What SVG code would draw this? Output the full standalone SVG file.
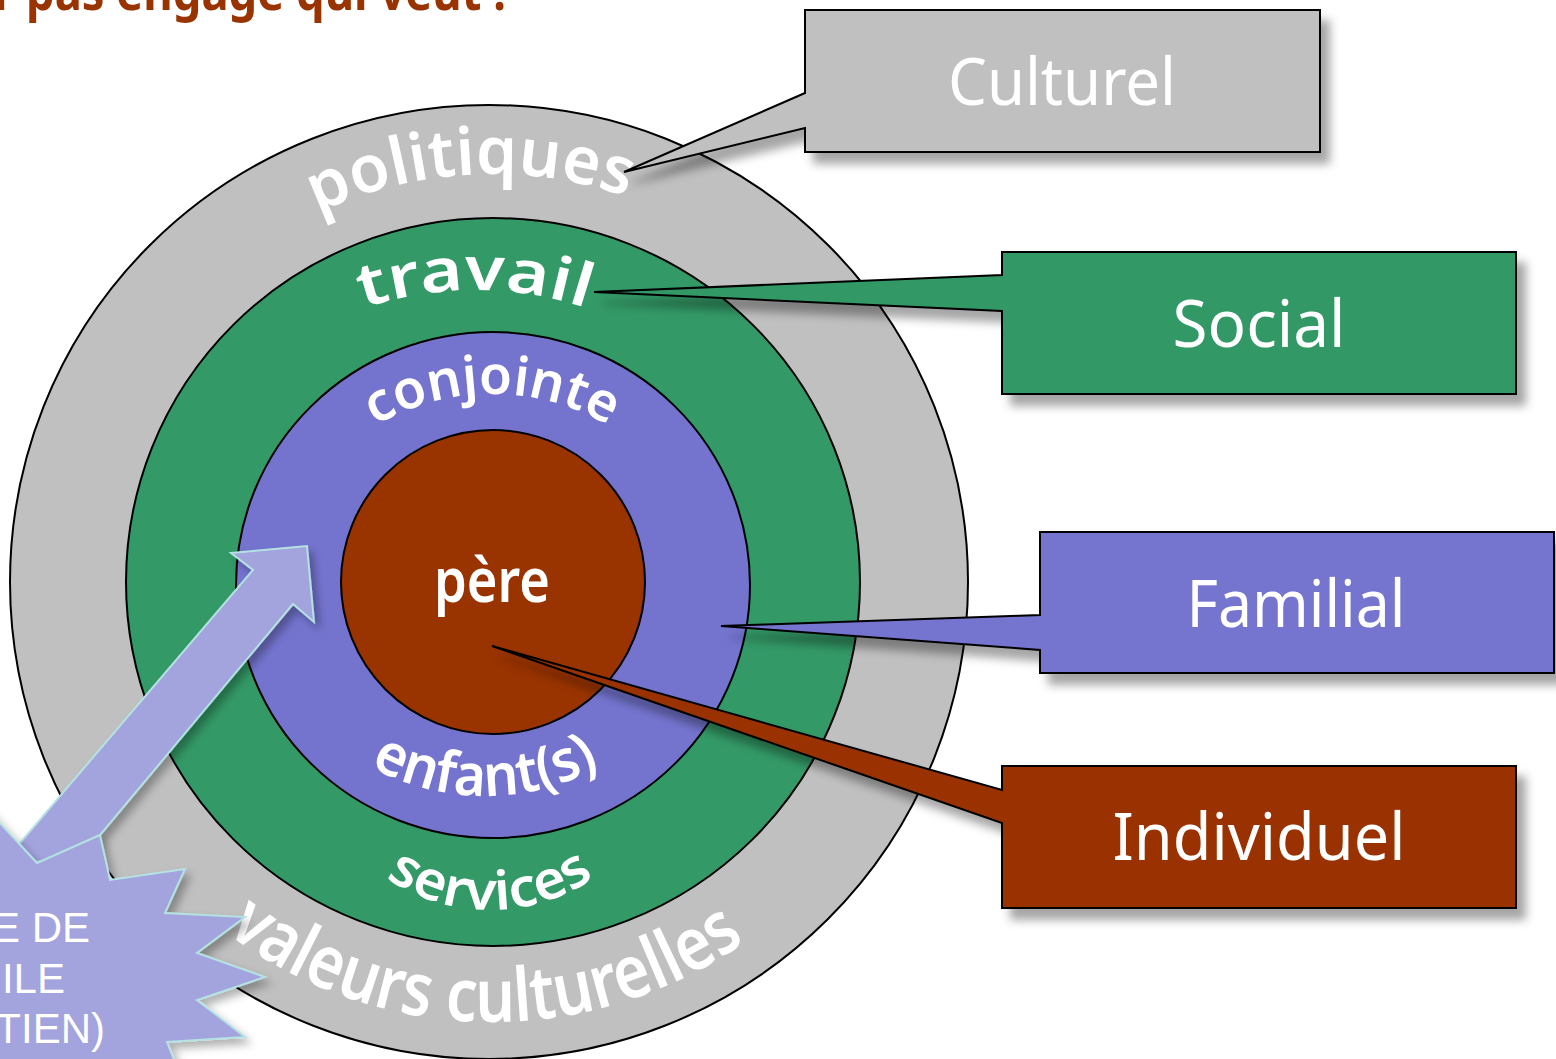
<svg xmlns="http://www.w3.org/2000/svg" xmlns:xlink="http://www.w3.org/1999/xlink" width="1556" height="1059" viewBox="0 0 1556 1059">
<style>
.ring{stroke:#000;stroke-width:2}
.rt{font-family:"Comic Sans MS","Noto Sans",sans-serif;fill:#fff;font-weight:600}
.bt{font-family:"Comic Sans MS","Noto Sans",sans-serif;fill:#fff;font-size:66px;text-anchor:middle}
.co{stroke:#000;stroke-width:2;filter:url(#sh)}
.burst{fill:#a3a3de;stroke:#b4e2e2;stroke-width:2}
.st{font-family:"Liberation Sans",Arial,sans-serif;fill:#fff;font-size:42px;text-anchor:end}
</style>
<defs>
<filter id="sh" x="-20%" y="-20%" width="150%" height="160%">
<feDropShadow dx="9" dy="11" stdDeviation="5" flood-color="#000" flood-opacity="0.35"/>
</filter>
<filter id="sh2" x="-20%" y="-20%" width="150%" height="150%">
<feDropShadow dx="5" dy="6" stdDeviation="4" flood-color="#000" flood-opacity="0.3"/>
</filter>
<path id="p-pol" d="M128.5,396.8 A408,408 0 0 1 834.2,359.8"/>
<path id="p-tra" d="M171.9,465 A350,350 0 0 1 778.1,465"/>
<path id="p-con" d="M292.8,509 A230,230 0 0 1 691.2,509"/>
<path id="p-enf" d="M277.2,676 A240,240 0 0 0 692.8,676"/>
<path id="p-ser" d="M329.8,817.5 A185,185 0 0 0 650.2,817.5"/>
<path id="p-val" d="M107.2,795.3 A440,440 0 0 0 869.2,808.6"/>
</defs>
<rect width="1556" height="1059" fill="#fff"/>

<text x="-6" y="10" font-family="'Comic Sans MS','Noto Sans',sans-serif" font-weight="bold" font-size="52" fill="#993300" textLength="512" lengthAdjust="spacingAndGlyphs">r pas engage qui veut !</text>

<g id="ring-culturel">
<ellipse class="ring" cx="489" cy="582" rx="479" ry="477" fill="#c0c0c0"/>
<text class="rt" font-size="66"><textPath xlink:href="#p-pol" href="#p-pol" startOffset="50%" text-anchor="middle" textLength="318" lengthAdjust="spacingAndGlyphs">politiques</textPath></text>
<text class="rt" font-size="74"><textPath xlink:href="#p-val" href="#p-val" startOffset="50%" text-anchor="middle" textLength="556" lengthAdjust="spacingAndGlyphs">valeurs culturelles</textPath></text>
</g>
<g id="ring-social">
<ellipse class="ring" cx="493" cy="582" rx="367" ry="364" fill="#339966"/>
<text class="rt" font-size="60"><textPath xlink:href="#p-tra" href="#p-tra" startOffset="50%" text-anchor="middle" textLength="227" lengthAdjust="spacingAndGlyphs">travail</textPath></text>
<text class="rt" font-size="54"><textPath xlink:href="#p-ser" href="#p-ser" startOffset="50%" text-anchor="middle" textLength="222" lengthAdjust="spacingAndGlyphs">services</textPath></text>
</g>
<g id="ring-familial">
<ellipse class="ring" cx="493" cy="585" rx="257" ry="253" fill="#7474cf"/>
<text class="rt" font-size="54"><textPath xlink:href="#p-con" href="#p-con" startOffset="50%" text-anchor="middle" textLength="245" lengthAdjust="spacingAndGlyphs">conjointe</textPath></text>
<text class="rt" font-size="58"><textPath xlink:href="#p-enf" href="#p-enf" startOffset="50%" text-anchor="middle" textLength="240" lengthAdjust="spacingAndGlyphs">enfant(s)</textPath></text>
</g>
<g id="ring-individuel">
<circle class="ring" cx="493" cy="582" r="152" fill="#993300"/>
<text class="rt" x="492" y="602" font-size="62" text-anchor="middle" textLength="116" lengthAdjust="spacingAndGlyphs">père</text>
</g>

<g id="connectors">
<polygon class="burst" filter="url(#sh2)" points="231,553 307,546 314,622 293,604 80,859 2,864 253,570"/>
</g>

<g id="starburst">
<polygon class="burst" filter="url(#sh2)" points="-40,780 37,863 100,835 110,880 185,869 165,913 245,917 197,953 265,977 197,1000 245,1037 167,1042 180,1075 -40,1075"/>
<text class="st" x="90" y="942">E DE</text>
<text class="st" x="65" y="993">ILE</text>
<text class="st" x="105" y="1043">TIEN)</text>
</g>

<g id="callout-culturel">
<path class="co" fill="#c0c0c0" d="M805,10 H1320 V152 H805 V128 L624,172 L805,93 Z"/>
<text class="bt" x="1062" y="105" textLength="228" lengthAdjust="spacingAndGlyphs">Culturel</text>
</g>
<g id="callout-social">
<path class="co" fill="#339966" d="M1002,252 H1516 V394 H1002 V311 L594,292 L1002,275 Z"/>
<text class="bt" x="1259" y="347" textLength="173" lengthAdjust="spacingAndGlyphs">Social</text>
</g>
<g id="callout-familial">
<path class="co" fill="#7474cf" d="M1040,532 H1554 V673 H1040 V650 L721,626 L1040,615 Z"/>
<text class="bt" x="1296" y="627" textLength="219" lengthAdjust="spacingAndGlyphs">Familial</text>
</g>
<g id="callout-individuel">
<path class="co" fill="#993300" d="M1002,766 H1516 V908 H1002 V823 L492,646 L1002,790 Z"/>
<text class="bt" x="1259" y="860" textLength="293" lengthAdjust="spacingAndGlyphs">Individuel</text>
</g>
</svg>
